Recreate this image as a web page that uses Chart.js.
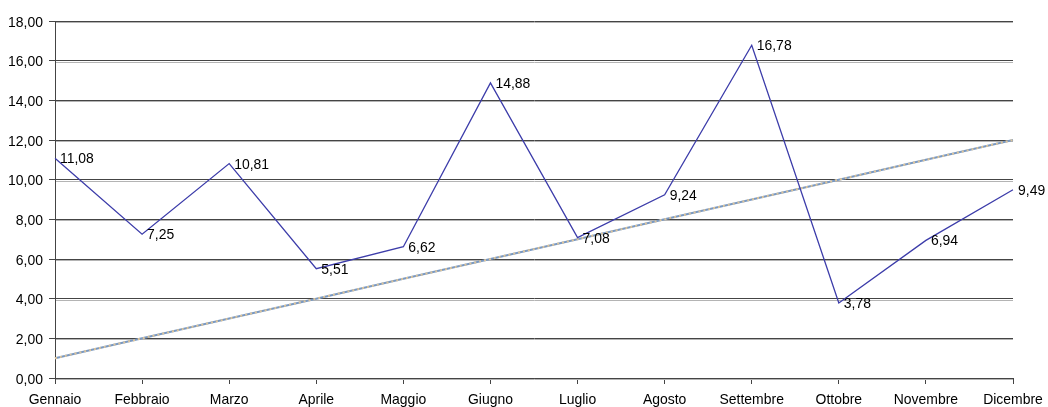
<!DOCTYPE html>
<html>
<head>
<meta charset="utf-8">
<script src="https://cdn.jsdelivr.net/npm/chart.js@4/dist/chart.umd.min.js"></script>
<style>
  html, body { margin: 0; padding: 0; background: #fff; }
  #chart { display: block; }
</style>
</head>
<body>
<canvas id="chart" width="1048" height="407"></canvas>
<script>
// values
const months = ['Gennaio', 'Febbraio', 'Marzo', 'Aprile', 'Maggio', 'Giugno',
                'Luglio', 'Agosto', 'Settembre', 'Ottobre', 'Novembre', 'Dicembre'];
const values = [11.08, 7.25, 10.81, 5.51, 6.62, 14.88, 7.08, 9.24, 16.78, 3.78, 6.94, 9.49];
const trend = [1, 2, 3, 4, 5, 6, 7, 8, 9, 10, 11, 12];
const yTicks = [0, 2, 4, 6, 8, 10, 12, 14, 16, 18];

const fmt = v => v.toFixed(2).replace('.', ',');
const FONT = '15px "Liberation Sans", Arial, sans-serif';
const SQUEEZE = 0.93; // reference text is a bit narrow

// draw text squeezed horizontally, anchored at (x, y)
function squeezedText(ctx, text, x, y, align) {
    ctx.save();
    ctx.translate(x, y);
    ctx.scale(SQUEEZE, 1);
    ctx.textAlign = align;
    ctx.textBaseline = 'alphabetic';
    ctx.fillText(text, 0, 0);
    ctx.restore();
}

// light grey line under each grid line (the reference has a soft shadow)
const gridShadow = {
    id: 'gridShadow',
    beforeDatasetsDraw(chart) {
        const { ctx, chartArea, scales } = chart;
        ctx.save();
        ctx.strokeStyle = '#b4b4b4';
        ctx.lineWidth = 1;
        yTicks.forEach(v => {
            const y = Math.round(scales.y.getPixelForValue(v)) + 1.5;
            ctx.beginPath();
            ctx.moveTo(chartArea.left + 1, y);
            ctx.lineTo(chartArea.right, y);
            ctx.stroke();
        });
        ctx.restore();
    }
};

// axis tick labels and the value labels right of each point
const labels = {
    id: 'labels',
    afterDatasetsDraw(chart) {
        const { ctx, scales } = chart;
        ctx.save();
        ctx.font = FONT;
        ctx.fillStyle = '#000';
        yTicks.forEach(v => {
            squeezedText(ctx, fmt(v), 43, scales.y.getPixelForValue(v) + 5.5, 'right');
        });
        months.forEach((m, i) => {
            squeezedText(ctx, m, scales.x.getPixelForValue(i), 404, 'center');
        });
        const meta = chart.getDatasetMeta(0);
        meta.data.forEach((pt, i) => {
            squeezedText(ctx, fmt(values[i]), pt.x + 5, pt.y + 5, 'left');
        });
        ctx.restore();
    }
};

const chart = new Chart(document.getElementById('chart'), {
    type: 'line',
    data: {
        labels: months,
        datasets: [
            {
                data: values,
                borderColor: '#3d3daa',
                borderWidth: 1.3,
                pointRadius: 0,
                tension: 0
            },
            {   // trend, tan dashes on top of the blue base
                data: trend,
                borderColor: '#ddc49a',
                borderWidth: 2,
                borderDash: [2, 3],
                pointRadius: 0,
                tension: 0
            },
            {   // trend, blue base
                data: trend,
                borderColor: '#7898c2',
                borderWidth: 2,
                pointRadius: 0,
                tension: 0
            }
        ]
    },
    options: {
        responsive: false,
        animation: false,
        devicePixelRatio: 1,
        layout: { padding: { top: 21, right: 35, left: 0, bottom: 0 } },
        plugins: {
            legend: { display: false },
            tooltip: { enabled: false }
        },
        scales: {
            x: {
                offset: false,
                grid: {
                    drawOnChartArea: false,
                    drawTicks: true,
                    tickLength: 6,
                    color: '#444'
                },
                border: { display: true, color: '#444', width: 1 },
                ticks: { display: false, autoSkip: false },
                afterFit(scale) {
                    scale.height = 29;
                    scale.paddingLeft = 0;
                    scale.paddingRight = 0;
                }
            },
            y: {
                min: 0,
                max: 18,
                grid: {
                    color: '#444',
                    tickLength: 6
                },
                border: { display: true, color: '#444', width: 1 },
                ticks: { display: false, stepSize: 2 },
                afterFit(scale) {
                    scale.width = 55;
                    scale.paddingTop = 0;
                    scale.paddingBottom = 0;
                }
            }
        }
    },
    plugins: [gridShadow, labels]
});
</script>
</body>
</html>
